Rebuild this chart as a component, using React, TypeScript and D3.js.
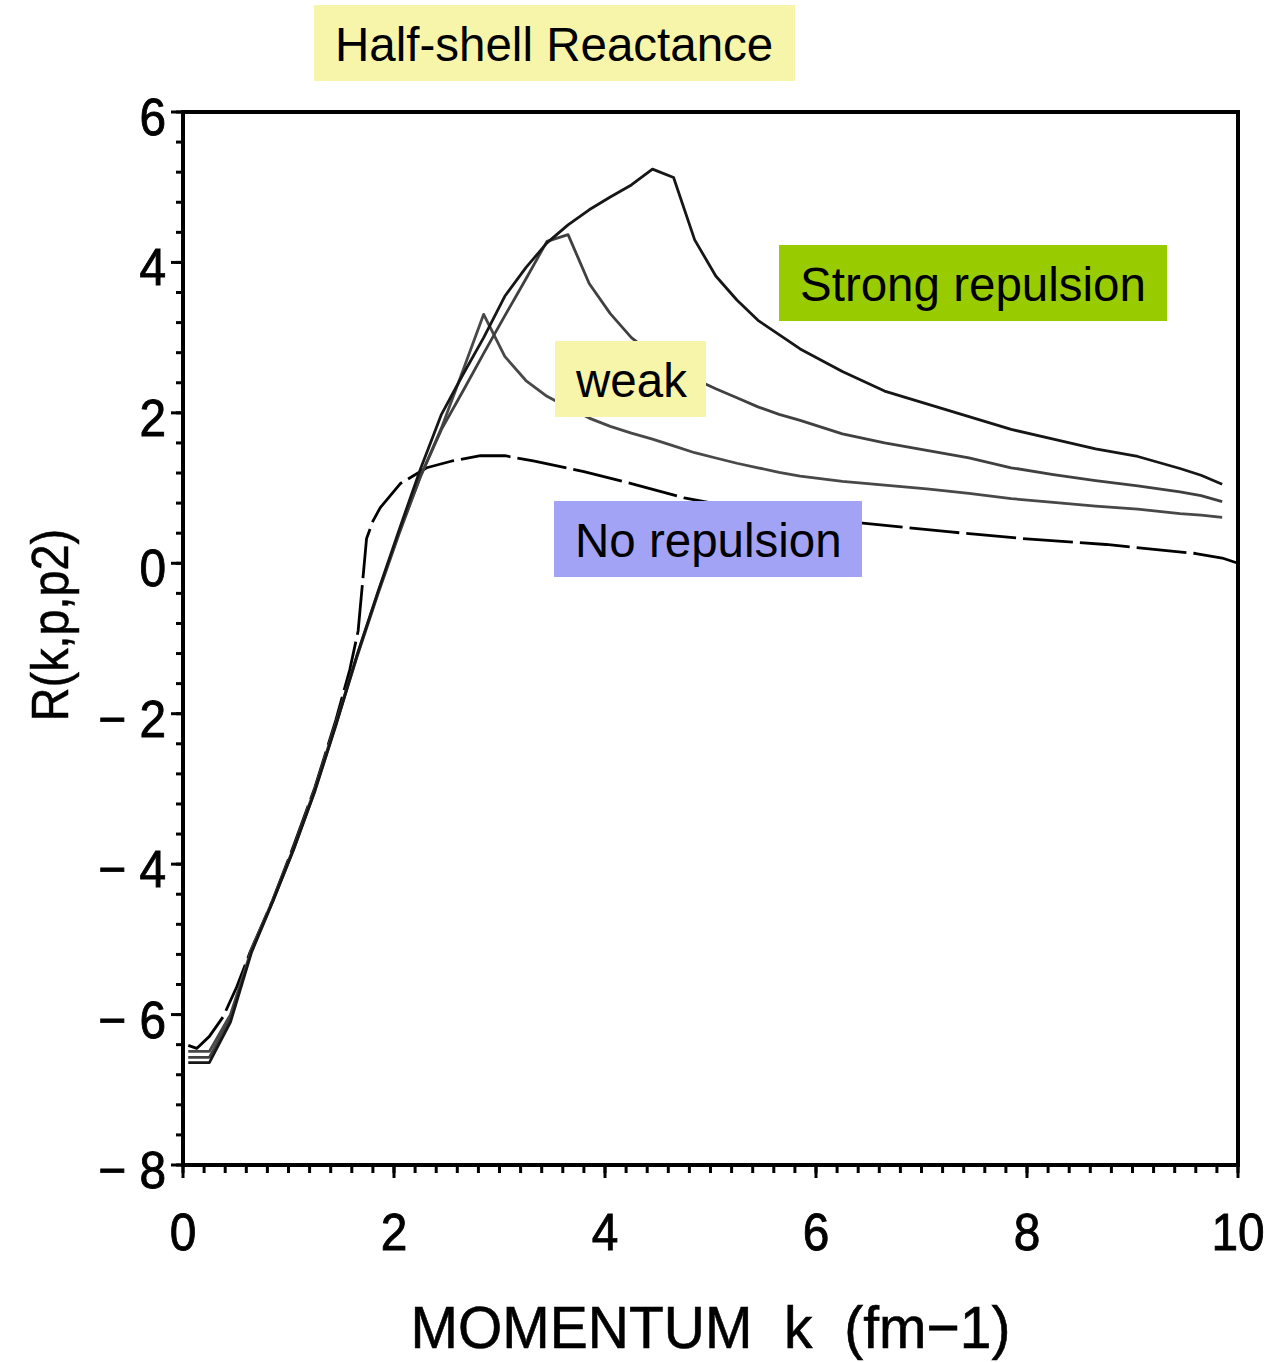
import React, { useRef, useEffect } from "react";
import * as d3 from "d3";

// momentum grid shared by the three repulsive curves
const kSolid = [
  0.05, 0.25, 0.45, 0.65, 0.85, 1.05, 1.25, 1.45, 1.65, 1.85,
  2.05, 2.25, 2.45, 2.65, 2.85, 3.05, 3.25, 3.45, 3.65, 3.85,
  4.05, 4.25, 4.45, 4.65, 4.85, 5.05, 5.25, 5.45, 5.65, 5.85,
  6.25, 6.65, 7.05, 7.45, 7.85, 8.25, 8.65, 9.05, 9.45, 9.65, 9.85,
];

const strongR = [
  -6.64, -6.64, -6.1, -5.17, -4.5, -3.8, -3.03, -2.15, -1.22, -0.37,
  0.45, 1.25, 1.98, 2.5, 3.0, 3.55, 3.93, 4.26, 4.5, 4.7,
  4.87, 5.03, 5.24, 5.13, 4.3, 3.82, 3.5, 3.23, 3.04, 2.85,
  2.55, 2.29, 2.12, 1.95, 1.78, 1.65, 1.52, 1.42, 1.26, 1.17, 1.05,
];

const mediumR = [
  -6.57, -6.57, -6.05, -5.15, -4.5, -3.8, -3.02, -2.14, -1.24, -0.4,
  0.4, 1.15, 1.78, 2.28, 2.79, 3.29, 3.78, 4.28, 4.37, 3.72,
  3.32, 3.0, 2.78, 2.6, 2.45, 2.32, 2.2, 2.08, 1.98, 1.9,
  1.72, 1.6, 1.5, 1.4, 1.27, 1.18, 1.1, 1.03, 0.95, 0.9, 0.82,
];

const weakR = [
  -6.49, -6.49, -6.0, -5.13, -4.48, -3.78, -3.0, -2.12, -1.22, -0.38,
  0.42, 1.15, 1.8, 2.55, 3.31, 2.75, 2.43, 2.22, 2.07, 1.93,
  1.82, 1.73, 1.65, 1.56, 1.47, 1.4, 1.33, 1.27, 1.21, 1.16,
  1.09, 1.04, 0.99, 0.93, 0.86, 0.81, 0.76, 0.72, 0.66, 0.64, 0.61,
];

// no repulsion curve (dashed), its own grid
const kNone = [
  0.05, 0.13, 0.25, 0.38, 0.51, 0.63, 0.85, 1.05, 1.25, 1.45,
  1.58, 1.66, 1.74, 1.8, 1.87, 2.06, 2.31, 2.55, 2.82, 3.05, 3.32,
  3.8, 4.25, 4.75, 5.25, 5.75, 6.25, 6.75, 7.25, 7.95, 8.75,
  9.6, 9.85, 10.0,
];
const noneR = [
  -6.41, -6.45, -6.29, -6.03, -5.63, -5.19, -4.48, -3.75, -2.98, -2.08,
  -1.42, -0.9, 0.33, 0.56, 0.74, 1.06, 1.27, 1.36, 1.43, 1.43, 1.36,
  1.22, 1.06, 0.87, 0.74, 0.64, 0.56, 0.49, 0.42, 0.33, 0.25,
  0.13, 0.07, 0.0,
];

const xTicks = [0, 2, 4, 6, 8, 10];
const yTicks = [-8, -6, -4, -2, 0, 2, 4, 6];

const title = "Half-shell Reactance";
const xTitle = "MOMENTUM  k  (fm\u22121)";
const yTitle = "R(k,p,p2)";

const App = () => {
  const svgRef = useRef(null);

  useEffect(() => {
    const width = 1268;
    const height = 1362;
    const margin = { top: 112, right: 30, bottom: 197, left: 183 };
    const font = "'Liberation Sans', Arial, Helvetica, sans-serif";

    const svg = d3.select(svgRef.current);
    svg.selectAll("*").remove();
    svg.attr("width", width).attr("height", height);

    const xScale = d3
      .scaleLinear()
      .domain([0, 10])
      .range([margin.left, width - margin.right]);
    const yScale = d3
      .scaleLinear()
      .domain([-8, 6])
      .range([height - margin.bottom, margin.top]);

    const x0 = xScale(0);
    const y0 = yScale(-8);

    // minor + major ticks
    const yMinor = d3.range(-8, 6.001, 0.4);
    svg
      .append("g")
      .selectAll("line")
      .data(yMinor)
      .enter()
      .append("line")
      .attr("x1", x0)
      .attr("x2", x0 - 7)
      .attr("y1", (d) => yScale(d))
      .attr("y2", (d) => yScale(d))
      .attr("stroke", "#000")
      .attr("stroke-width", 3);

    svg
      .append("g")
      .selectAll("line")
      .data(yTicks)
      .enter()
      .append("line")
      .attr("x1", x0)
      .attr("x2", x0 - 12)
      .attr("y1", (d) => yScale(d))
      .attr("y2", (d) => yScale(d))
      .attr("stroke", "#000")
      .attr("stroke-width", 3);

    const xMinor = d3.range(0, 10.001, 0.2);
    svg
      .append("g")
      .selectAll("line")
      .data(xMinor)
      .enter()
      .append("line")
      .attr("x1", (d) => xScale(d))
      .attr("x2", (d) => xScale(d))
      .attr("y1", y0)
      .attr("y2", y0 + 8)
      .attr("stroke", "#000")
      .attr("stroke-width", 3);

    svg
      .append("g")
      .selectAll("line")
      .data(xTicks)
      .enter()
      .append("line")
      .attr("x1", (d) => xScale(d))
      .attr("x2", (d) => xScale(d))
      .attr("y1", y0)
      .attr("y2", y0 + 13)
      .attr("stroke", "#000")
      .attr("stroke-width", 3);

    // tick labels (narrow, heavy look)
    svg
      .append("g")
      .selectAll("text")
      .data(yTicks)
      .enter()
      .append("text")
      .attr("transform", (d) => `translate(${x0 - 17},${yScale(d) + 23}) scale(0.92,1)`)
      .attr("text-anchor", "end")
      .attr("stroke", "#000")
      .attr("stroke-width", 0.9)
      .style("font-family", font)
      .style("font-size", "52px")
      .style("white-space", "pre")
      .text((d) => (d < 0 ? `\u2212 ${-d}` : `${d}`));

    svg
      .append("g")
      .selectAll("text")
      .data(xTicks)
      .enter()
      .append("text")
      .attr("transform", (d) => `translate(${xScale(d)},${y0 + 85}) scale(0.92,1)`)
      .attr("text-anchor", "middle")
      .attr("stroke", "#000")
      .attr("stroke-width", 0.9)
      .style("font-family", font)
      .style("font-size", "52px")
      .text((d) => d);

    // curves
    const line = d3
      .line()
      .x((d) => xScale(d[0]))
      .y((d) => yScale(d[1]));

    const series = [
      { k: kNone, r: noneR, color: "#000", dash: "50,7" },
      { k: kSolid, r: weakR, color: "#484848", dash: null },
      { k: kSolid, r: mediumR, color: "#404040", dash: null },
      { k: kSolid, r: strongR, color: "#161616", dash: null },
    ];

    series.forEach((s) => {
      svg
        .append("path")
        .datum(s.k.map((k, i) => [k, s.r[i]]))
        .attr("fill", "none")
        .attr("stroke", s.color)
        .attr("stroke-width", 2.8)
        .attr("stroke-linejoin", "round")
        .attr("stroke-dasharray", s.dash)
        .attr("d", line);
    });

    // frame
    svg
      .append("rect")
      .attr("x", x0)
      .attr("y", yScale(6))
      .attr("width", xScale(10) - x0)
      .attr("height", y0 - yScale(6))
      .attr("fill", "none")
      .attr("stroke", "#000")
      .attr("stroke-width", 4);

    // label boxes
    const boxes = [
      { text: title, x: 314, y: 5, w: 481, fill: "#f7f5aa" },
      { text: "Strong repulsion", x: 779, y: 245, w: 388, fill: "#99cc00" },
      { text: "weak", x: 555, y: 341, w: 151, fill: "#f7f5aa" },
      { text: "No repulsion", x: 554, y: 501, w: 308, fill: "#a3a3f5" },
    ];
    const box = svg
      .selectAll(".box")
      .data(boxes)
      .enter()
      .append("g")
      .attr("class", "box")
      .attr("transform", (d) => `translate(${d.x},${d.y})`);
    box
      .append("rect")
      .attr("width", (d) => d.w)
      .attr("height", 76)
      .attr("fill", (d) => d.fill);
    box
      .append("text")
      .attr("x", 21)
      .attr("y", 56)
      .style("font-family", font)
      .style("font-size", "47.5px")
      .text((d) => d.text);

    // axis titles
    svg
      .append("text")
      .attr("transform", `translate(${(x0 + xScale(10)) / 2},1348) scale(0.95,1)`)
      .attr("text-anchor", "middle")
      .attr("stroke", "#000")
      .attr("stroke-width", 0.6)
      .style("font-family", font)
      .style("font-size", "60px")
      .style("white-space", "pre")
      .text(xTitle);

    svg
      .append("text")
      .attr("transform", "translate(68,625) rotate(-90) scale(0.9,1)")
      .attr("text-anchor", "middle")
      .attr("stroke", "#000")
      .attr("stroke-width", 0.5)
      .style("font-family", font)
      .style("font-size", "52px")
      .text(yTitle);
  }, []);

  return (
    <svg
      ref={svgRef}
      style={{ position: "absolute", left: 0, top: 0, background: "#fff" }}
    ></svg>
  );
};

export default App;
